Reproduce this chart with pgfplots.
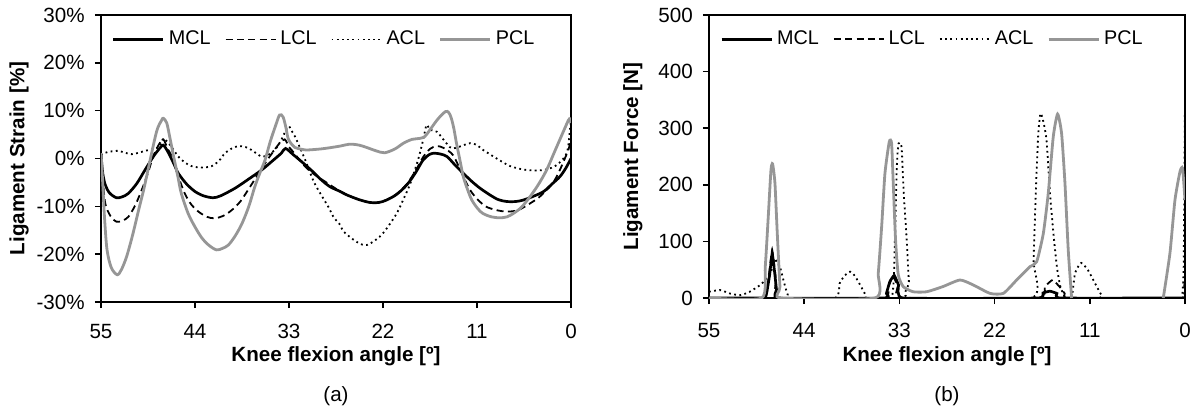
\documentclass[border=0pt]{standalone}
\usepackage{fontspec}
\setmainfont{Liberation Sans}
\usepackage{pgfplots}
\usepackage{pgfplotstable}
\pgfplotsset{compat=1.18}
\definecolor{pclgray}{RGB}{150,150,150}

\pgfplotstableread{
a v
55.0 1.0
54.8 -3.0
54.5 -5.5
54.0 -7.2
53.2 -8.2
52.5 -8.0
51.8 -7.3
50.8 -5.2
49.85 -2.4
48.8 0.6
48.0 2.4
47.7 2.8
47.2 1.5
46.5 -1.0
45.95 -3.1
45.0 -5.3
44.0 -6.9
43.0 -7.8
41.9 -8.2
41.0 -7.8
39.3 -6.2
37.8 -4.4
36.2 -2.4
35.0 -0.6
33.9 1.1
33.4 2.1
32.5 0.8
31.5 -0.7
30.3 -2.6
29.2 -4.5
28.2 -5.9
27.0 -6.9
26.25 -7.6
24.8 -8.6
23.5 -9.2
22.5 -9.2
21.6 -8.7
20.4 -7.5
19.2 -5.5
18.2 -3.0
17.3 -0.3
16.5 0.9
15.9 1.1
15.2 0.9
14.5 0.4
13.6 -1.3
12.6 -3.1
11.6 -4.8
10.65 -6.2
9.5 -7.6
8.5 -8.6
7.5 -9.0
6.5 -9.0
5.6 -8.7
4.4 -7.9
3.2 -6.9
2.2 -5.3
1.3 -3.8
0.6 -2.0
0.0 0.0
}\smcl

\pgfplotstableread{
a v
55.0 1.0
54.8 -4.0
54.5 -9.4
53.9 -12.0
53.2 -13.2
52.5 -13.0
51.8 -12.2
51.0 -9.8
50.24 -6.6
49.5 -3.0
48.9 0.4
48.2 3.0
47.7 4.0
47.2 2.0
46.7 0.4
46.0 -3.5
45.2 -7.3
44.4 -9.7
43.6 -11.1
42.6 -12.2
41.7 -12.5
40.7 -12.0
39.7 -10.8
38.7 -9.0
37.8 -6.6
36.8 -3.8
35.8 -1.0
34.9 1.3
34.1 3.2
33.5 4.0
33.0 2.4
32.7 1.8
31.1 -1.7
29.9 -3.5
28.8 -4.8
27.0 -6.9
26.2 -7.6
24.8 -8.6
23.5 -9.2
22.5 -9.2
21.6 -8.7
20.4 -7.4
19.2 -5.3
18.2 -2.6
17.3 0.3
16.5 2.0
15.7 2.6
14.9 2.2
13.8 0.7
12.8 -3.0
11.8 -6.6
10.8 -8.8
9.9 -10.1
8.7 -10.8
7.5 -11.1
6.2 -10.8
4.8 -9.4
3.8 -8.2
2.85 -6.6
2.0 -4.8
1.3 -2.4
0.6 0.5
0.3 1.8
0.0 3.9
}\slcl

\pgfplotstableread{
a v
55.0 0.7
54.5 1.2
54.1 1.4
53.0 1.6
52.2 1.2
51.4 0.9
50.6 1.2
49.85 1.6
48.3 2.3
47.9 3.5
47.7 4.2
47.3 3.6
46.9 2.8
45.95 0.4
45.2 -0.8
44.4 -1.6
43.2 -1.9
42.05 -1.6
41.2 -0.5
40.5 1.1
39.7 2.1
38.9 2.6
38.1 2.4
37.4 1.8
36.2 0.4
35.4 0.8
34.6 1.9
33.9 3.9
33.1 6.7
32.7 5.8
32.3 4.6
31.7 2.2
31.1 -0.3
30.0 -5.2
28.4 -10.1
27.8 -12.2
27.0 -13.9
26.6 -15.3
25.1 -17.4
23.9 -18.1
22.35 -16.3
21.4 -14.2
20.4 -11.5
19.6 -8.5
18.8 -5.2
17.9 -0.3
17.3 3.9
16.9 7.0
16.5 6.0
15.7 5.6
14.9 3.9
14.2 2.4
13.8 2.1
13.0 2.5
11.8 3.2
11.0 2.8
10.3 1.8
9.5 0.9
8.7 0.0
7.1 -1.6
5.2 -2.4
3.2 -2.4
1.7 -1.4
0.5 1.1
0.12 6.0
0.0 8.0
}\sacl

\pgfplotstableread{
a v
55.0 1.1
54.8 -5.0
54.6 -12.0
54.3 -19.0
53.8 -22.8
53.1 -24.3
52.6 -23.2
52.0 -20.5
51.3 -16.0
50.6 -10.8
50.0 -6.5
49.5 -2.4
48.5 5.6
47.9 8.0
47.7 8.4
47.3 7.4
46.9 4.0
46.5 0.4
46.0 -3.8
45.6 -7.3
44.8 -11.5
44.0 -14.3
43.2 -16.6
42.4 -18.1
41.5 -19.1
40.8 -18.8
40.1 -18.1
39.3 -16.2
38.5 -13.6
37.7 -10.0
37.0 -5.9
36.4 -3.0
35.8 -0.3
35.2 3.5
34.6 6.7
34.1 9.1
33.7 8.7
33.4 6.8
33.1 4.2
32.7 3.0
32.3 2.3
31.1 1.8
29.9 1.9
28.8 2.1
27.0 2.6
25.9 3.0
24.8 2.8
23.9 2.3
22.8 1.6
21.8 1.2
20.6 2.0
19.6 3.2
18.6 4.0
17.7 4.2
17.1 4.6
16.5 6.0
15.6 8.2
14.7 9.8
14.3 9.6
14.0 8.4
13.7 6.2
13.4 3.2
13.0 -0.3
12.6 -3.8
12.1 -6.5
11.6 -8.7
10.9 -10.5
10.3 -11.5
9.3 -12.2
8.3 -12.4
7.5 -12.2
6.75 -11.5
5.8 -10.2
4.8 -8.0
3.8 -5.4
2.85 -2.4
1.9 1.5
0.9 5.6
0.3 8.0
0.1 8.3
0.0 7.4
}\spcl

\pgfplotstableread{
a v
55 0
48.9 0
48.5 0
48.3 12
48.0 40
47.7 79
47.45 50
47.2 15
47.05 0
34.6 0
34.5 8
34.1 29
33.6 40
33.1 23
32.6 0
17.0 0
16.4 9
15.6 12
14.8 8
14.4 0
0 0
}\fmcl

\pgfplotstableread{
a v
55 0
48.6 0
48.15 32
47.7 85
47.26 32
47.0 0
34.7 0
34.3 20
33.7 38
33.2 20
32.9 0
16.8 0
16.2 20
15.3 32
14.5 20
13.9 8
13.5 0
0.3 0
0.15 10
0.0 36
}\flcl

\pgfplotstableread{
a v
55 11
53.7 14
52.6 8
51.4 5
50.3 11
49.0 24
48.2 38
47.8 48
47.5 62
47.2 66
46.8 55
46.2 20
45.9 6
45.7 0
40.4 0
39.9 26
39.3 40
38.7 46.5
38.2 40
37.75 29
36.9 5
36.8 0
33.9 0
33.5 114
33.3 232
33.1 273
32.75 267
32.5 185
32.2 114
31.9 29
31.7 0
17.7 0
17.5 67
17.2 203
16.95 291
16.7 326
16.4 314
16.0 279
15.6 185
15.2 114
14.8 55
14.4 20
13.8 0
13.1 0
12.7 44
12.0 62
11.2 49
10.4 26
9.6 3.5
9.4 0
0.6 0
0.3 10
0.15 60
0.0 350
}\facl

\pgfplotstableread{
a v
55 0
48.9 0
48.5 55
48.15 144
47.84 226
47.65 237
47.38 203
47.11 114
46.8 20
46.68 0
35.82 0
35.44 44
35.05 126
34.67 220
34.17 276
33.9 273
33.71 203
33.44 102
33.13 41
32.55 20
31.4 11
29.86 11
28.0 20
26.0 31.8
24.46 23
22.53 8.2
20.99 8.2
19.45 31.8
17.91 55.4
17.14 64
16.37 114
15.8 185
15.22 285
14.72 325
14.26 291
13.87 203
13.49 85
13.1 0
8.0 nan
2.51 0
1.74 79
1.16 173
0.58 223
0.28 229
0.0 173
}\fpcl

\pgfplotsset{
  panel/.style={
    scale only axis,
    x dir=reverse,
    xmin=0, xmax=55,
    xtick={0,11,22,33,44,55},
    axis line style={line width=0.75pt},
    every tick/.style={black, line width=0.75pt},
    tick align=outside,
    tick pos=left,
    major tick length=3pt,
    /pgf/number format/assume math mode=true,
    yticklabel style={xshift=-1.5pt},
    xlabel={Knee flexion angle [º]},
    label style={font=\bfseries},
    unbounded coords=jump,
    legend columns=4,
    legend cell align=left,
    legend image code/.code={\draw[##1] (0pt,0pt) -- (25pt,0pt);},
    legend style={draw=none, fill=none, inner sep=0pt,
      nodes={inner xsep=0pt, inner ysep=1pt, font=\fontsize{9.9}{11.5}\selectfont},
      /tikz/every odd column/.append style={column sep=2pt},
      /tikz/every even column/.append style={column sep=7pt}},
  },
  mcl/.style={black, line width=1.35pt},
  lcl/.style={black, line width=0.9pt, dash pattern=on 3.5pt off 2.2pt},
  acl/.style={black, line width=0.9pt, dash pattern=on 0.9pt off 1.7pt},
  pcl/.style={pclgray, line width=1.4pt},
}

\begin{document}
\fontsize{10.3}{12.3}\selectfont
\begin{tikzpicture}
\useasboundingbox (0,0) rectangle (595.5pt,207pt);
\begin{axis}[panel,
  at={(50.5pt,56pt)}, anchor=south west,
  width=235pt, height=143.5pt,
  ymin=-30, ymax=30,
  ytick={-30,-20,-10,0,10,20,30},
  yticklabel={\pgfmathprintnumber{\tick}\%},
  xticklabel style={yshift=-4.5pt},
  ylabel={Ligament Strain [\%]},
  ylabel style={at={(axis description cs:-0.1745,0.5)}, anchor=center},
  xlabel style={at={(axis description cs:0.5,-0.19)}, anchor=center},
  legend style={at={(axis description cs:0.0228,0.915)}, anchor=west},
]
\addplot[mcl, smooth, tension=0.5] table[x=a,y=v] {\smcl};
\addlegendentry{MCL}
\addplot[lcl, smooth, tension=0.5] table[x=a,y=v] {\slcl};
\addlegendentry{LCL}
\addplot[acl, smooth, tension=0.5] table[x=a,y=v] {\sacl};
\addlegendentry{ACL}
\addplot[pcl, smooth, tension=0.5] table[x=a,y=v] {\spcl};
\addlegendentry{PCL}
\end{axis}

\begin{axis}[panel,
  at={(354.5pt,58pt)}, anchor=south west,
  width=238pt, height=141.5pt,
  ymin=0, ymax=500,
  ytick={0,100,200,300,400,500},
  xticklabel style={yshift=-6pt},
  ylabel={Ligament Force [N]},
  ylabel style={at={(axis description cs:-0.160,0.5)}, anchor=center},
  xlabel style={at={(axis description cs:0.5,-0.2074)}, anchor=center},
  legend style={at={(axis description cs:0.0231,0.914)}, anchor=west},
]
\addplot[mcl, smooth, tension=0.2] table[x=a,y=v] {\fmcl};
\addlegendentry{MCL}
\addplot[lcl, smooth, tension=0.2] table[x=a,y=v] {\flcl};
\addlegendentry{LCL}
\addplot[acl, smooth, tension=0.35] table[x=a,y=v] {\facl};
\addlegendentry{ACL}
\addplot[pcl, smooth, tension=0.35] table[x=a,y=v] {\fpcl};
\addlegendentry{PCL}
\end{axis}

\node at (168pt,9pt) {(a)};
\node at (473.5pt,9pt) {(b)};
\end{tikzpicture}
\end{document}
